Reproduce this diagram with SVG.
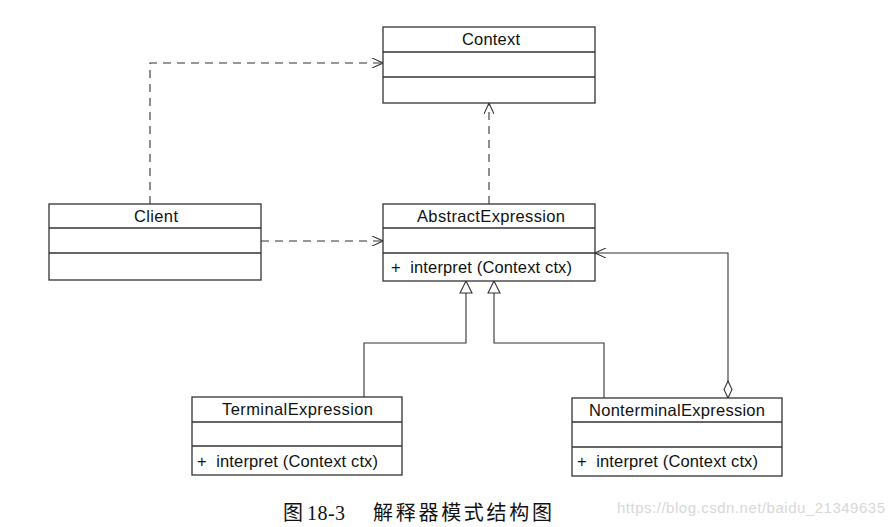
<svg xmlns="http://www.w3.org/2000/svg" width="890" height="527" viewBox="0 0 890 527">
<defs>
<style>
.box{fill:#fff;stroke:#333;stroke-width:1.3}
.sep{stroke:#333;stroke-width:1.3}
.t{font-family:"Liberation Sans",Arial,sans-serif;font-size:16.5px;fill:#111}
.c{text-anchor:middle}
.dash{fill:none;stroke:#333;stroke-width:1.1;stroke-dasharray:8,6}
.solid{fill:none;stroke:#333;stroke-width:1.1}
.cap{font-family:"Liberation Serif","Noto Sans CJK SC",serif;font-size:20px;fill:#111}
.wm{font-family:"Liberation Sans",Arial,sans-serif;font-size:15px;fill:#d8d8d8}
</style>
<marker id="open" markerWidth="12" markerHeight="10" refX="11" refY="5" orient="auto" markerUnits="userSpaceOnUse">
<path d="M0,0 L11,5 L0,10" fill="none" stroke="#333" stroke-width="1.1"/>
</marker>
<marker id="tri" markerWidth="14" markerHeight="14" refX="13" refY="7" orient="auto" markerUnits="userSpaceOnUse">
<path d="M1,1 L13,7 L1,13 Z" fill="#fff" stroke="#333" stroke-width="1.1"/>
</marker>
<marker id="dia" markerWidth="20" markerHeight="10" refX="1" refY="5" orient="auto" markerUnits="userSpaceOnUse">
<path d="M1,5 L9.5,1 L18,5 L9.5,9 Z" fill="#fff" stroke="#333" stroke-width="1.1"/>
</marker>
</defs>
<rect width="890" height="527" fill="#fff"/>
<g id="connectors">
<path class="dash" d="M150,204 V63 H383" marker-end="url(#open)"/>
<path class="dash" d="M261,241 H383" marker-end="url(#open)"/>
<path class="dash" d="M489,204 V103" marker-end="url(#open)"/>
<path class="solid" d="M364,397 V343 H466 V281" marker-end="url(#tri)"/>
<path class="solid" d="M604,398 V343 H494 V281" marker-end="url(#tri)"/>
<path class="solid" d="M728,398 V253 H595" marker-start="url(#dia)" marker-end="url(#open)"/>
</g>
<g id="Context">
<rect class="box" x="383" y="27" width="212" height="76"/>
<line class="sep" x1="383" y1="52" x2="595" y2="52"/>
<line class="sep" x1="383" y1="77" x2="595" y2="77"/>
<text class="t" x="462" y="45" textLength="58">Context</text>
</g>
<g id="Client">
<rect class="box" x="49" y="204" width="212" height="76"/>
<line class="sep" x1="49" y1="228" x2="261" y2="228"/>
<line class="sep" x1="49" y1="253" x2="261" y2="253"/>
<text class="t" x="134" y="222" textLength="44">Client</text>
</g>
<g id="AbstractExpression">
<rect class="box" x="383" y="204" width="212" height="77"/>
<line class="sep" x1="383" y1="228" x2="595" y2="228"/>
<line class="sep" x1="383" y1="253" x2="595" y2="253"/>
<text class="t" x="417" y="222" textLength="148">AbstractExpression</text>
<text class="t" x="391" y="273" textLength="181" xml:space="preserve">+  interpret (Context ctx)</text>
</g>
<g id="TerminalExpression">
<rect class="box" x="192" y="397" width="210" height="78"/>
<line class="sep" x1="192" y1="422" x2="402" y2="422"/>
<line class="sep" x1="192" y1="446" x2="402" y2="446"/>
<text class="t" x="222" y="415" textLength="151">TerminalExpression</text>
<text class="t" x="197" y="467" textLength="181" xml:space="preserve">+  interpret (Context ctx)</text>
</g>
<g id="NonterminalExpression">
<rect class="box" x="572" y="398" width="210" height="78"/>
<line class="sep" x1="572" y1="422" x2="782" y2="422"/>
<line class="sep" x1="572" y1="447" x2="782" y2="447"/>
<text class="t" x="589" y="416" textLength="176">NonterminalExpression</text>
<text class="t" x="577" y="467" textLength="181" xml:space="preserve">+  interpret (Context ctx)</text>
</g>
<g id="caption">
<text class="cap" x="283" y="520">图</text>
<text class="cap" x="307" y="520" textLength="38">18-3</text>
<text class="cap" x="373" y="520" textLength="179">解释器模式结构图</text>
<text class="wm" x="617" y="513" textLength="268">https://blog.csdn.net/baidu_21349635</text>
</g>
</svg>
